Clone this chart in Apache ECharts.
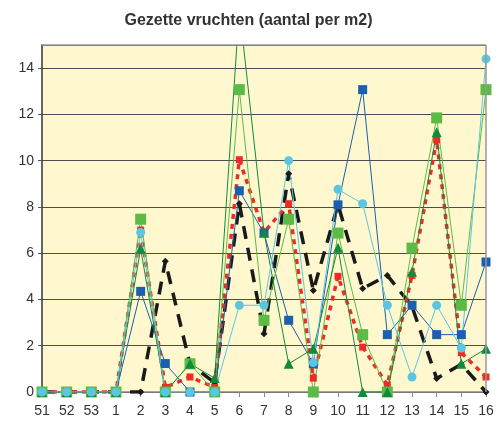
<!DOCTYPE html>
<html>
<head>
<meta charset="utf-8">
<script src="https://cdn.jsdelivr.net/npm/echarts@6/dist/echarts.min.js"></script>
<style>
html,body{margin:0;padding:0;background:#fff;}
#chart{width:497px;height:423px;}
</style>
</head>
<body>
<div id="chart"></div>
<script>
var categories = ['51','52','53','1','2','3','4','5','6','7','8','9','10','11','12','13','14','15','16'];
var blackSeries = [0,0,0,0,0,5.65,1.2,0.4,8.14,2.52,9.43,4.39,8.1,4.47,5.04,3.7,0.58,1.2,0];
var redSeries   = [0,0,0,0,7.0,0.2,0.65,0.2,10.04,6.9,8.14,0.6,5.0,1.94,0.3,5.04,10.9,1.7,0.65];
var blueSeries  = [0,0,0,0,4.35,1.23,0,0,8.7,6.87,3.1,1.22,8.09,13.07,2.48,3.75,2.48,2.48,5.62];
var greenSeries = [0,0,0,0,7.47,0,1.22,0,13.07,3.1,7.47,0,6.87,2.48,0,6.22,11.85,3.75,13.07];
var darkGreenSeries = [0,0,0,0,6.19,0,1.22,0.6,16.6,6.9,1.22,1.87,6.24,0,0,5.2,11.23,1.22,1.87];
var cyanSeries  = [0,0,0,0,6.9,0,0,0,3.75,3.75,10.0,1.27,8.76,8.14,3.75,0.65,3.75,1.9,14.4];
var yTicks = [0,2,4,6,8,10,12,14];

var chart = echarts.init(document.getElementById('chart'), null, {renderer:'canvas'});
var font = 'Liberation Sans, Arial, sans-serif';
function mk(name, data, color, opts){
  return Object.assign({
    name: name, type: 'line', data: data, clip: true,
    symbol: 'rect', symbolSize: 8,
    itemStyle: {color: color, borderWidth: 0},
    lineStyle: {color: color, width: 1},
    emphasis: {disabled: true},
    animation: false
  }, opts);
}
chart.setOption({
  backgroundColor: '#ffffff',
  animation: false,
  title: {
    text: 'Gezette vruchten (aantal per m2)',
    left: 'center', top: 8,
    textStyle: {fontFamily: font, fontSize: 16, fontWeight: 'bold', color: '#333333'}
  },
  grid: {left: 42, top: 45, right: 11, bottom: 31, show: true, backgroundColor: '#fff8cf', borderWidth: 0},
  xAxis: {
    type: 'category', data: categories, boundaryGap: false,
    axisLine: {show: true, lineStyle: {color: '#888888', width: 1.5}},
    axisTick: {show: true, alignWithLabel: true, length: 5, lineStyle: {color: '#888888'}},
    axisLabel: {fontFamily: font, fontSize: 14, color: '#333333', margin: 12, interval: 0},
    splitLine: {show: false}
  },
  yAxis: {
    type: 'value', min: 0, max: 15, interval: 2,
    axisLine: {show: true, lineStyle: {color: '#333333', width: 1.5}},
    axisTick: {show: true, length: 4, lineStyle: {color: '#555555'}},
    axisLabel: {fontFamily: font, fontSize: 14, color: '#333333', margin: 8, showMaxLabel: false,
      formatter: function(v){ return yTicks.indexOf(v) >= 0 ? String(v) : ''; }},
    splitLine: {show: true, lineStyle: {color: '#4d4d4d', width: 1}}
  },
  graphic: [
    {type:'line', shape:{x1:42, y1:45, x2:486, y2:45}, style:{stroke:'#999999', lineWidth:1.5}, z: 50},
    {type:'line', shape:{x1:486, y1:45, x2:486, y2:392}, style:{stroke:'#999999', lineWidth:1.5}, z: 50}
  ],
  series: [
    mk('zwart', blackSeries, '#1a1a1a', {symbol:'diamond', symbolSize:7, lineStyle:{color:'#1a1a1a', width:3.5, type:[13,9]}}),
    mk('rood', redSeries, '#ee2b24', {symbol:'rect', symbolSize:7, lineStyle:{color:'#ee2b24', width:3.5, type:[5,5]}}),
    mk('blauw', blueSeries, '#1b5fae', {symbol:'rect', symbolSize:9}),
    mk('groen', greenSeries, '#5cbb46', {symbol:'rect', symbolSize:11}),
    mk('donkergroen', darkGreenSeries, '#128a3c', {symbol:'triangle', symbolSize:10}),
    mk('cyaan', cyanSeries, '#5ac6e2', {symbol:'circle', symbolSize:9})
  ]
});
</script>
</body>
</html>
